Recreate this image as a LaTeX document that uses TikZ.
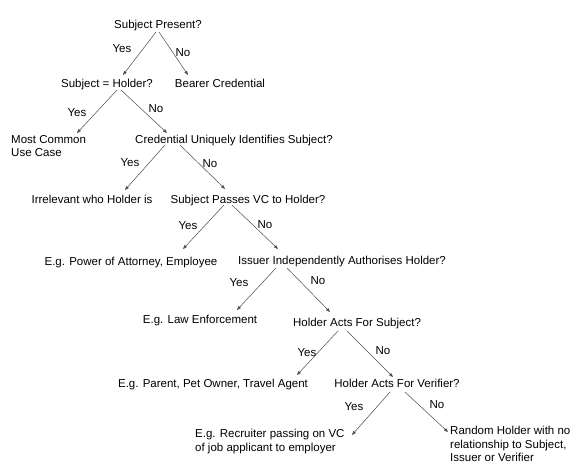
\documentclass[tikz,border=0pt]{standalone}
\usepackage{fontspec}
\setmainfont{Liberation Sans}
\usetikzlibrary{arrows.meta}
\begin{document}
\begin{tikzpicture}[x=1pt,y=-1pt,
  txt/.style={inner sep=0pt,text height=8.2pt,text depth=0pt,font=\fontsize{11.5}{13.5}\selectfont},
  mtxt/.style={inner sep=0pt,font=\fontsize{11.5}{13.5}\selectfont,align=left,anchor=north west},
  lbl/.style={inner sep=0pt,text height=8.2pt,text depth=0pt,font=\fontsize{11.5}{13.5}\selectfont},
  conn/.style={draw=black!70,line width=0.5pt,-{Triangle[length=4pt,width=3pt]}}]
\useasboundingbox[fill=white] (0,0) rectangle (583,467);
% nodes
\node[txt] (sp) at (158,24) {Subject Present?};
\node[txt] (sh) at (107,83) {Subject = Holder?};
\node[txt] (bc) at (220,83) {Bearer Credential};
\node[mtxt] (mc) at (11,135) {Most Common\\Use Case};
\node[txt] (cu) at (234,139) {Credential Uniquely Identifies Subject?};
\node[txt] (ir) at (92,199) {Irrelevant who Holder is};
\node[txt] (spv) at (248,199) {Subject Passes VC to Holder?};
\node[txt] (poa) at (131,261) {E.g. Power of Attorney, Employee};
\node[txt] (iia) at (342,260) {Issuer Independently Authorises Holder?};
\node[txt] (le) at (200,319) {E.g. Law Enforcement};
\node[txt] (has) at (357,322) {Holder Acts For Subject?};
\node[txt] (ppt) at (213,383) {E.g. Parent, Pet Owner, Travel Agent};
\node[txt] (hav) at (397,383) {Holder Acts For Verifier?};
\node[mtxt] (rec) at (195,429) {E.g. Recruiter passing on VC\\of job applicant to employer};
\node[mtxt] (rnd) at (450,426) {Random Holder with no\\relationship to Subject,\\Issuer or Verifier};
% labels
\node[lbl] (y1) at (122,48) {Yes};
\node[lbl] (n1) at (183,52) {No};
\node[lbl] (y2) at (77,112) {Yes};
\node[lbl] (n2) at (156,108) {No};
\node[lbl] (y3) at (130,162) {Yes};
\node[lbl] (n3) at (210,163) {No};
\node[lbl] (y4) at (188,225) {Yes};
\node[lbl] (n4) at (265,224) {No};
\node[lbl] (y5) at (239,282) {Yes};
\node[lbl] (n5) at (318,280) {No};
\node[lbl] (y6) at (307,352) {Yes};
\node[lbl] (n6) at (383,350) {No};
\node[lbl] (y7) at (354,406) {Yes};
\node[lbl] (n7) at (437,404) {No};
% connectors
\draw[conn] ([shift={(-2,8)}]sp.center) -- ([shift={(16,-8)}]sh.center);
\draw[conn] ([shift={(1,8)}]sp.center) -- ([shift={(-32,-8)}]bc.center);
\draw[conn] ([shift={(10,7)}]sh.center) -- ([shift={(66,-2)}]mc.north west);
\draw[conn] ([shift={(14,7)}]sh.center) -- ([shift={(-67,-6)}]cu.center);
\draw[conn] ([shift={(-69,6)}]cu.center) -- ([shift={(33,-9)}]ir.center);
\draw[conn] ([shift={(-54,6)}]cu.center) -- ([shift={(-23,-10)}]spv.center);
\draw[conn] ([shift={(-24,6)}]spv.center) -- ([shift={(52,-12)}]poa.center);
\draw[conn] ([shift={(-16,6)}]spv.center) -- ([shift={(-64,-11)}]iia.center);
\draw[conn] ([shift={(-66,8)}]iia.center) -- ([shift={(37,-9)}]le.center);
\draw[conn] ([shift={(-55,8)}]iia.center) -- ([shift={(-27,-10)}]has.center);
\draw[conn] ([shift={(-19,9)}]has.center) -- ([shift={(84,-8)}]ppt.center);
\draw[conn] ([shift={(-10,9)}]has.center) -- ([shift={(-4,-6)}]hav.center);
\draw[conn] ([shift={(-7,9)}]hav.center) -- ([shift={(157,6)}]rec.north west);
\draw[conn] ([shift={(8,9)}]hav.center) -- ([shift={(-2,6)}]rnd.north west);
\end{tikzpicture}
\end{document}
